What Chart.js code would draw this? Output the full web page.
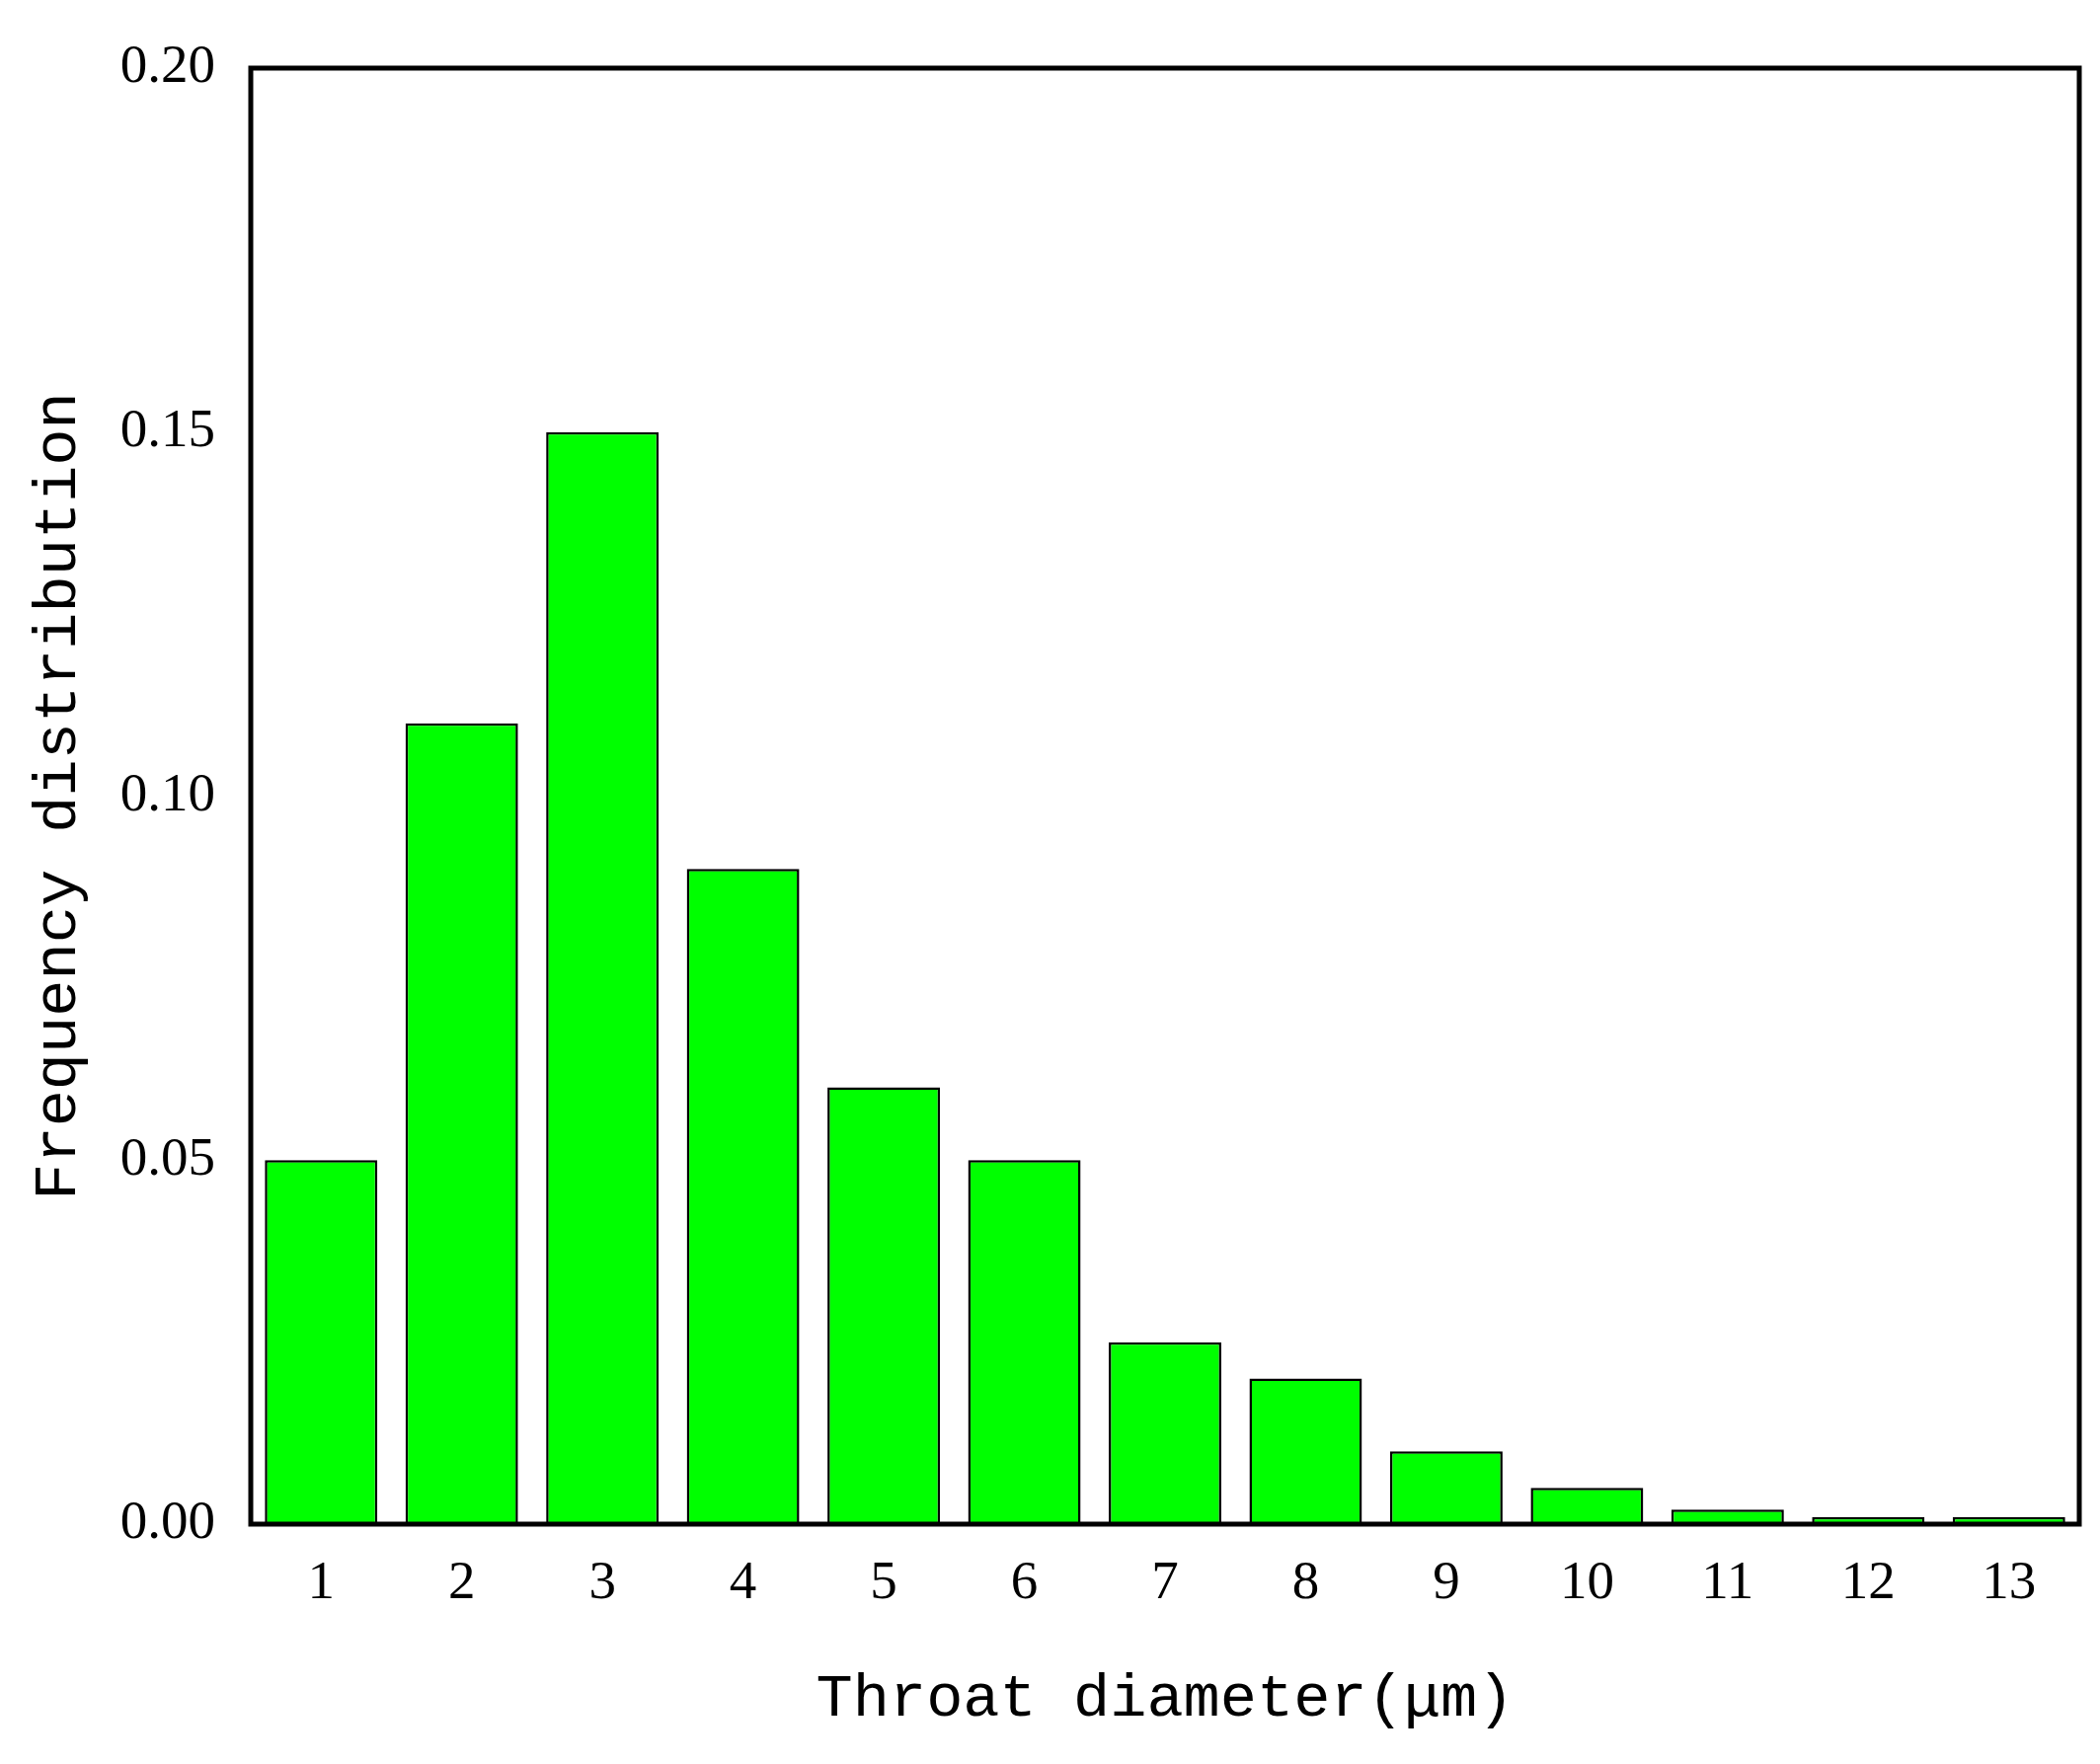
<!DOCTYPE html>
<html><head><meta charset="utf-8">
<script src="https://cdn.jsdelivr.net/npm/chart.js@4"></script>
<style>html,body{margin:0;padding:0;background:#fff}#w{width:2127px;height:1787px}</style>
</head><body><div id="w"><canvas id="c"></canvas></div>
<script>
const categories = ["1","2","3","4","5","6","7","8","9","10","11","12","13"];
const frequency = [0.05,0.11,0.15,0.09,0.06,0.05,0.025,0.02,0.01,0.005,0.002,0.001,0.001];
const yTicks = [0,0.05,0.10,0.15,0.20];
const xTitle = "Throat diameter(μm)";
const yTitle = "Frequency distribution";

const frame = {id:'frame', afterDraw(ch){const a=ch.chartArea,c=ch.ctx;c.save();c.strokeStyle='#000';c.lineWidth=5;c.strokeRect(a.left,a.top,a.right-a.left,a.bottom-a.top);c.restore();}};

new Chart(document.getElementById('c'),{
 type:'bar',
 data:{labels:categories,datasets:[{data:frequency,backgroundColor:'#00ff00',borderColor:'#000',borderWidth:2.5,barPercentage:0.8,categoryPercentage:1}]},
 options:{responsive:true,maintainAspectRatio:false,animation:false,devicePixelRatio:1,
  layout:{padding:{top:52,right:21,left:0,bottom:0}},
  plugins:{legend:{display:false},tooltip:{enabled:false}},
  scales:{
   x:{grid:{display:false,drawTicks:false},border:{display:false},
      ticks:{color:'#000',font:{family:'Liberation Serif',size:55},padding:28},
      title:{display:true,text:xTitle,color:'#000',font:{family:'Liberation Mono',size:62},padding:{top:30,bottom:28}},
      afterFit(s){s.height=243;}},
   y:{min:0,max:0.2,grid:{display:false,drawTicks:false},border:{display:false},
      afterBuildTicks(s){s.ticks=yTicks.map(v=>({value:v}));},
      ticks:{color:'#000',font:{family:'Liberation Serif',size:55},padding:36,callback:v=>Number(v).toFixed(2)},
      title:{display:true,text:yTitle,color:'#000',font:{family:'Liberation Mono',size:62},padding:{top:22,bottom:10}},
      afterFit(s){s.width=254;}}
  }},
 plugins:[frame]
});
</script></body></html>
